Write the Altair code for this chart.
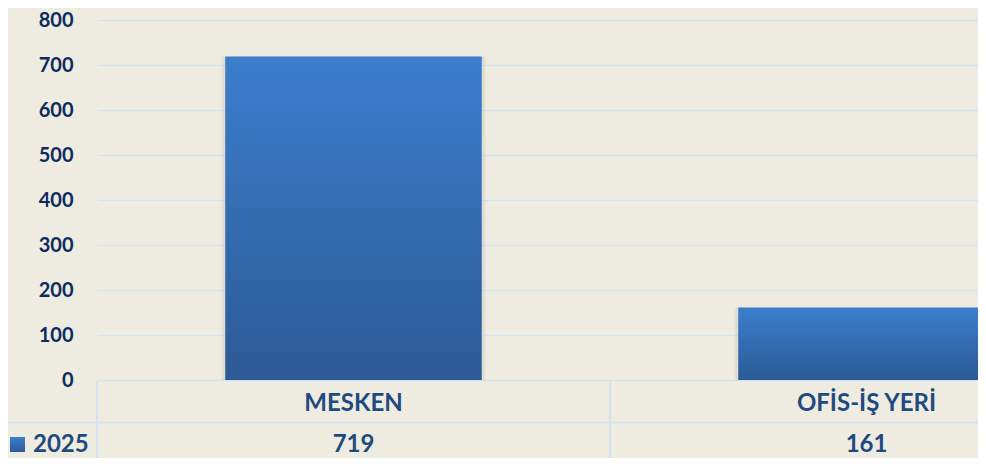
import altair as alt
import pandas as pd

# ---- data ----
categories = ["MESKEN", "OFİS-İŞ YERİ"]
values_2025 = [719, 161]
series_name = "2025"
y_ticks = [0, 100, 200, 300, 400, 500, 600, 700, 800]

df = pd.DataFrame({"kategori": categories, "deger": values_2025})

BG = "#EEECE1"
GRID = "#D5E2F2"
AXIS_TXT = "#0D2B5F"
TBL_TXT = "#1F4A7F"
FONT = "Lato"

bar_grad = alt.Gradient(
    gradient="linear",
    stops=[alt.GradientStop(color="#3C7ECD", offset=0),
           alt.GradientStop(color="#2C5A96", offset=1)],
    x1=0, x2=0, y1=0, y2=1,
)

xscale = alt.Scale(range=[0, 1026], paddingInner=0, paddingOuter=0)
x_enc = alt.X("kategori:N", sort=categories, scale=xscale, axis=None)
y_enc = alt.Y(
    "deger:Q",
    scale=alt.Scale(domain=[0, 800], nice=False),
    axis=alt.Axis(values=y_ticks, title=None, ticks=False, domain=False,
                  labelPadding=24, labelFont=FONT, labelFontWeight="bold",
                  labelFontSize=20, labelColor=AXIS_TXT,
                  gridColor=GRID, gridWidth=1.5),
)

base = alt.Chart(df)

shadow1 = base.mark_bar(color="#000000", opacity=0.035, width={"band": 0.516}).encode(
    x=x_enc, y=y_enc)
shadow2 = base.mark_bar(color="#000000", opacity=0.035, width={"band": 0.508}).encode(
    x=x_enc, y=y_enc)

bars = base.mark_bar(color=bar_grad, width={"band": 0.5}).encode(x=x_enc, y=y_enc)

cat_text = base.mark_text(font=FONT, fontWeight="bold", fontSize=24,
                          color=TBL_TXT, baseline="alphabetic").encode(
    x=x_enc, y=alt.value(391), text="kategori:N")

val_text = base.mark_text(font=FONT, fontWeight="bold", fontSize=24,
                          color=TBL_TXT, baseline="alphabetic").encode(
    x=x_enc, y=alt.value(432), text="deger:Q")

vlines = base.mark_rule(color=GRID, strokeWidth=2).encode(
    x=alt.X("kategori:N", sort=categories, scale=xscale, axis=None, bandPosition=0),
    y=alt.value(361), y2=alt.value(438))

one = alt.Data(values=[{"s": series_name}])

hline1 = alt.Chart(one).mark_rule(color=GRID, strokeWidth=2).encode(
    x=alt.value(-89), x2=alt.value(881), y=alt.value(402.5))

legend_sq = alt.Chart(one).mark_rect(color=bar_grad).encode(
    x=alt.value(-87), x2=alt.value(-72), y=alt.value(417), y2=alt.value(432))

legend_txt = alt.Chart(one).mark_text(font=FONT, fontWeight="bold", fontSize=24,
                                      color=TBL_TXT, align="left",
                                      baseline="alphabetic").encode(
    x=alt.value(-64), y=alt.value(432), text="s:N")

chart = alt.layer(
    shadow1, shadow2, bars, vlines, hline1, cat_text, val_text, legend_sq, legend_txt
).properties(
    width=881, height=360,
    autosize=alt.AutoSizeParams(type="none"),
    padding={"left": 89, "top": 12, "right": 0, "bottom": 78},
    background=BG,
).configure_view(stroke=None)

chart.save("out.html", embed_options={"renderer": "svg", "actions": False})
